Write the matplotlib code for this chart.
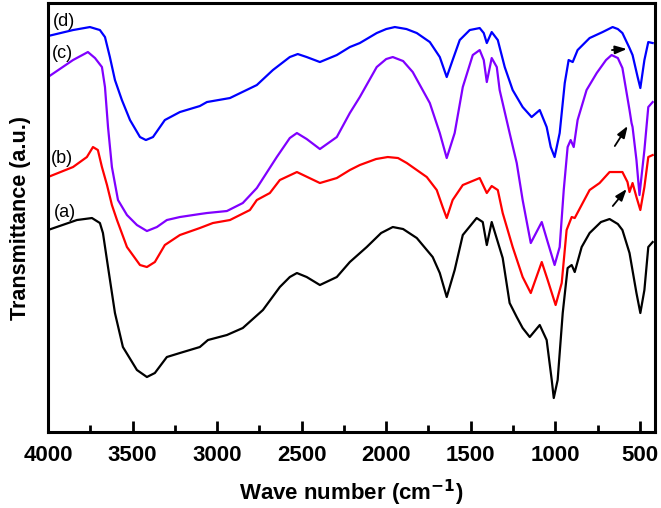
import matplotlib
matplotlib.use("Agg")
import matplotlib.pyplot as plt
import numpy as np

# FTIR spectra (wavenumber in cm-1, transmittance in a.u.)
wn_a = [4000, 3829, 3740, 3693, 3675, 3645, 3604, 3557, 3474, 3415, 3368, 3297,
        3220, 3102, 3054, 2942, 2848, 2729, 2629, 2570, 2528, 2470, 2392, 2292,
        2215, 2115, 2030, 1961, 1900, 1819, 1725, 1683, 1642, 1595, 1547, 1465,
        1429, 1405, 1376, 1311, 1270, 1228, 1193, 1151, 1092, 1051, 1021, 1009,
        986, 956, 927, 903, 885, 844, 797, 730, 679, 630, 603, 561, 520, 497,
        473, 450, 424]
t_a = [202, 212, 214, 209, 199, 165, 119, 85, 62, 55, 59, 75,
       79, 85, 92, 97, 104, 122, 145, 155, 159, 155, 147, 155,
       170, 185, 199, 205, 203, 194, 175, 159, 135, 162, 197, 214,
       210, 187, 210, 174, 129, 115, 104, 95, 107, 92, 52, 34,
       52, 119, 164, 167, 160, 185, 199, 210, 213, 208, 202, 179, 139, 119,
       142, 185, 190]

wn_b = [4000, 3852, 3770, 3734, 3705, 3681, 3651, 3622, 3592, 3533, 3456, 3415,
        3368, 3309, 3220, 3102, 3025, 2924, 2806, 2765, 2688, 2629, 2528, 2392,
        2292, 2215, 2156, 2060, 1991, 1930, 1878, 1760, 1701, 1666, 1642, 1607,
        1547, 1447, 1405, 1376, 1340, 1311, 1252, 1193, 1145, 1080, 1045, 998,
        962, 933, 903, 885, 838, 797, 738, 679, 603, 573, 561, 543, 520, 497,
        473, 450, 424]
t_b = [255, 265, 275, 285, 282, 265, 247, 227, 212, 185, 167, 165,
       170, 187, 197, 204, 209, 212, 222, 232, 239, 252, 260, 249,
       254, 262, 267, 273, 275, 274, 269, 255, 242, 225, 214, 232,
       247, 254, 239, 246, 242, 219, 185, 155, 139, 170, 152, 127,
       149, 202, 215, 214, 229, 242, 249, 260, 260, 250, 240, 249, 235, 222,
       245, 275, 277]

wn_c = [4000, 3852, 3764, 3722, 3681, 3663, 3645, 3622, 3586, 3533, 3474, 3415,
        3356, 3297, 3220, 3102, 3060, 2942, 2848, 2765, 2647, 2570, 2528, 2470,
        2392, 2292, 2215, 2156, 2056, 2000, 1961, 1900, 1843, 1742, 1683, 1642,
        1595, 1547, 1488, 1447, 1423, 1405, 1376, 1346, 1329, 1270, 1228, 1193,
        1145, 1080, 1045, 1004, 974, 950, 927, 909, 891, 868, 815, 755, 700,
        667, 630, 603, 561, 549, 543, 520, 502, 473, 450, 424]
t_c = [355, 372, 380, 374, 365, 345, 305, 265, 232, 217, 207, 201,
       205, 212, 215, 218, 219, 221, 229, 244, 275, 294, 299, 293,
       283, 295, 319, 335, 365, 373, 375, 371, 360, 329, 299, 274,
       299, 345, 377, 382, 372, 350, 374, 365, 342, 299, 269, 232,
       189, 210, 190, 167, 185, 242, 285, 292, 285, 312, 342, 359, 372,
       377, 374, 364, 322, 309, 305, 272, 237, 282, 325, 330]

wn_d = [4000, 3852, 3752, 3693, 3663, 3634, 3604, 3563, 3515, 3456, 3421, 3379,
        3309, 3220, 3102, 3060, 2924, 2765, 2670, 2570, 2523, 2470, 2392, 2292,
        2215, 2156, 2056, 2000, 1949, 1880, 1819, 1742, 1683, 1642, 1607, 1565,
        1506, 1447, 1423, 1405, 1376, 1340, 1299, 1252, 1193, 1140, 1092, 1051,
        1027, 1004, 974, 944, 921, 897, 868, 797, 720, 661, 630, 603, 561, 543,
        513, 497, 473, 450, 424]
t_d = [396, 402, 405, 402, 395, 375, 352, 332, 312, 295, 292, 295,
       312, 320, 326, 330, 334, 347, 362, 375, 378, 375, 370, 377,
       385, 389, 399, 403, 405, 403, 399, 390, 375, 355, 372, 392,
       402, 404, 399, 389, 400, 392, 365, 342, 325, 315, 322, 305,
       285, 275, 299, 349, 372, 370, 382, 394, 400, 405, 403, 399, 384, 377,
       355, 344, 372, 390, 389]

series = [
    (wn_a, t_a, "black", "(a)", 3900, 220),
    (wn_b, t_b, "#ff0000", "(b)", 3920, 274),
    (wn_c, t_c, "#8000ff", "(c)", 3915, 379),
    (wn_d, t_d, "#0000ff", "(d)", 3905, 411),
]

# arrows marking the ~560 cm-1 shoulder: (tail wn, tail T, head wn, head T)
arrows = [
    (665, 382, 577, 383),
    (648, 286, 572, 306),
    (660, 226, 578, 243),
]

plt.rcParams.update({
    "font.family": ["Liberation Sans", "DejaVu Sans"],
})

fig = plt.figure(figsize=(6.61, 5.08), dpi=100)
ax = fig.add_axes([0.0726, 0.1496, 0.9184, 0.8444])

for wn, t, color, label, lx, ly in series:
    ax.plot(wn, t, color=color, linewidth=1.6)
    ax.text(lx, ly, label, color="black", fontsize=13, ha="center", va="center")

for x0, y0, x1, y1 in arrows:
    ax.annotate("", xy=(x1, y1), xytext=(x0, y0),
                arrowprops=dict(arrowstyle="-|>,head_length=0.7,head_width=0.25",
                                color="black", lw=1.3, shrinkA=0, shrinkB=0))

ax.set_xlim(4000, 410)
ax.set_ylim(0, 429)
ax.set_xticks(np.arange(4000, 499, -500))
ax.set_xticks(np.arange(3750, 499, -500), minor=True)
ax.set_yticks([])
ax.tick_params(axis="x", which="major", direction="in", length=8, width=2,
               pad=9, labelsize=16)
ax.tick_params(axis="x", which="minor", direction="in", length=5, width=2)
for lab in ax.get_xticklabels():
    lab.set_fontweight("bold")
for s in ax.spines.values():
    s.set_linewidth(2.2)

ax.set_xlabel("Wave number (cm$^{\\mathbf{-1}}$)", fontsize=16, fontweight="bold",
              labelpad=9)
ax.set_ylabel("Transmittance (a.u.)", fontsize=15.5, fontweight="bold", labelpad=12)

fig.savefig("out.png", dpi=100)
